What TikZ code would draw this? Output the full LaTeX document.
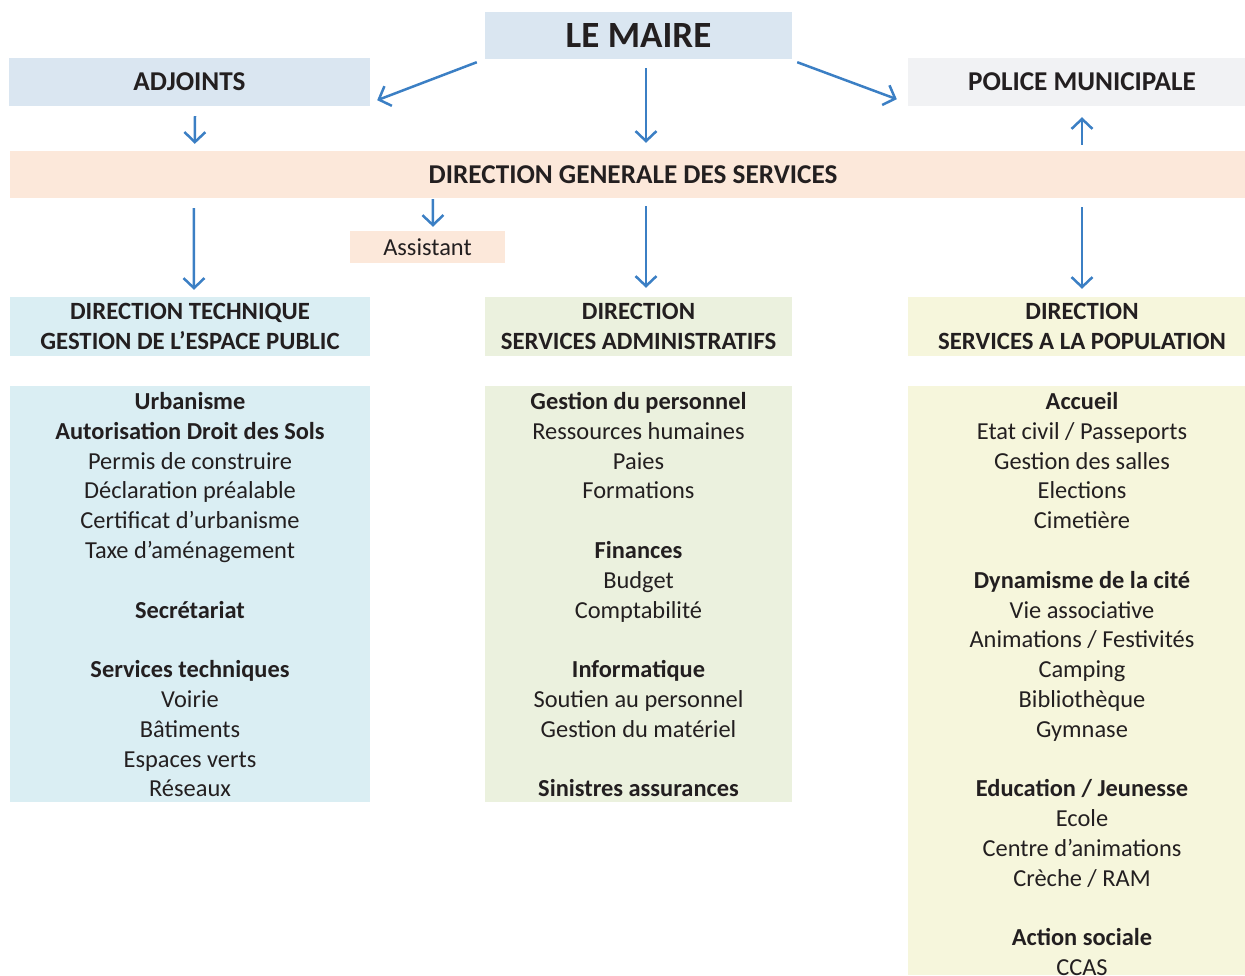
\documentclass[tikz,border=0pt]{standalone}
\usepackage{fontspec}
\setmainfont{Carlito}
\usetikzlibrary{arrows.meta,calc}
\definecolor{txt}{RGB}{35,31,32}
\definecolor{cblue}{RGB}{218,230,241}
\definecolor{cgrey}{RGB}{241,242,244}
\definecolor{cpeach}{RGB}{252,232,218}
\definecolor{ccyan}{RGB}{218,238,243}
\definecolor{cgreen}{RGB}{235,241,222}
\definecolor{cyell}{RGB}{246,246,220}
\definecolor{arrc}{RGB}{59,127,196}
\tikzset{
  box/.style={draw=none,inner sep=0pt,align=center,text=txt,font=\fontsize{27.2}{30}\selectfont\bfseries},
  dirbox/.style={box,font=\fontsize{24.8}{30}\selectfont\bfseries},
  body/.style={anchor=base,inner sep=0pt,text=txt,font=\fontsize{24.4}{29.8}\selectfont},
  arr/.style={draw=arrc,line width=2.5pt,-{Straight Barb[length=10pt,width=21pt]}}
}
\begin{document}
\begin{tikzpicture}[x=1pt,y=-1pt]
\useasboundingbox (0,0) rectangle (1245,975);
\node[box,fill=cblue,minimum width=307pt,minimum height=47pt,font=\fontsize{37}{40}\selectfont\bfseries] (maire) at (638.5,35.5) {LE MAIRE};
\node[box,fill=cblue,minimum width=361pt,minimum height=48pt] (adj) at (189.5,82) {ADJOINTS};
\node[box,fill=cgrey,minimum width=337pt,minimum height=48pt] (pol) at (1076.5,82) {\hspace*{11pt}POLICE MUNICIPALE};
\node[box,fill=cpeach,minimum width=1235pt,minimum height=47pt] (dgs) at (627.5,174.5) {\hspace*{11pt}DIRECTION GENERALE DES SERVICES};
\node[box,fill=cpeach,minimum width=155pt,minimum height=32pt,font=\fontsize{24.4}{29.8}\selectfont] (asst) at (427.5,247) {Assistant};
\node[dirbox,fill=ccyan,minimum width=360pt,minimum height=59pt] (dtech) at (190,326.5) {DIRECTION TECHNIQUE\\GESTION DE L’ESPACE PUBLIC};
\node[dirbox,fill=cgreen,minimum width=307pt,minimum height=59pt] (dadm) at (638.5,326.5) {DIRECTION\\SERVICES ADMINISTRATIFS};
\node[dirbox,fill=cyell,minimum width=337pt,minimum height=59pt] (dpop) at (1076.5,326.5) {\hspace*{11pt}DIRECTION\\\hspace*{11pt}SERVICES A LA POPULATION};
\node[box,fill=ccyan,minimum width=360pt,minimum height=416pt] (ctech) at (190,594) {};
\node[box,fill=cgreen,minimum width=307pt,minimum height=416pt] (cadm) at (638.5,594) {};
\node[box,fill=cyell,minimum width=337pt,minimum height=589pt] (cpop) at (1076.5,680.5) {};
% texts
\foreach \i/\t in {0/{\textbf{Urbanisme}},1/{\textbf{Autorisation Droit des Sols}},2/{Permis de construire},3/{Déclaration préalable},4/{Certificat d’urbanisme},5/{Taxe d’aménagement},7/{\textbf{Secrétariat}},9/{\textbf{Services techniques}},10/{Voirie},11/{Bâtiments},12/{Espaces verts},13/{Réseaux}}
  \node[body] (t\i) at (190,409.5+29.8*\i) {\t};
\foreach \i/\t in {0/{\textbf{Gestion du personnel}},1/{Ressources humaines},2/{Paies},3/{Formations},5/{\textbf{Finances}},6/{Budget},7/{Comptabilité},9/{\textbf{Informatique}},10/{Soutien au personnel},11/{Gestion du matériel},13/{\textbf{Sinistres assurances}}}
  \node[body] (a\i) at (638.5,409.5+29.8*\i) {\t};
\foreach \i/\t in {0/{\textbf{Accueil}},1/{Etat civil / Passeports},2/{Gestion des salles},3/{Elections},4/{Cimetière},6/{\textbf{Dynamisme de la cité}},7/{Vie associative},8/{Animations / Festivités},9/{Camping},10/{Bibliothèque},11/{Gymnase},13/{\textbf{Education / Jeunesse}},14/{Ecole},15/{Centre d’animations},16/{Crèche / RAM},18/{\textbf{Action sociale}},19/{CCAS}}
  \node[body] (p\i) at (1082,409.5+29.8*\i) {\t};
% arrows
\draw[arr] ($(maire.south west)+(-8,3)$) -- ($(adj.south east)+(7,-6)$);
\draw[arr] ($(maire.south)+(7.5,9)$) -- ($(dgs.north)+(18.5,-8)$);
\draw[arr] ($(maire.south east)+(5,3)$) -- ($(pol.south west)+(-11,-7)$);
\draw[arr] ($(adj.south)+(5.5,10)$) -- ($(dgs.north west)+(185,-7)$);
\draw[arr] ($(dgs.north)+(454.5,-6)$) -- ($(pol.south)+(5.5,11)$);
\draw[arr] ($(dgs.south west)+(184,10)$) -- ($(dtech.north)+(4,-7)$);
\draw[arr] ($(dgs.south west)+(423,1)$) -- ($(asst.north)+(5.5,-4)$);
\draw[arr] ($(dgs.south)+(18.5,8)$) -- ($(dadm.north)+(7.5,-9)$);
\draw[arr] ($(dgs.south)+(454.5,9)$) -- ($(dpop.north)+(5.5,-8)$);
\end{tikzpicture}
\end{document}
